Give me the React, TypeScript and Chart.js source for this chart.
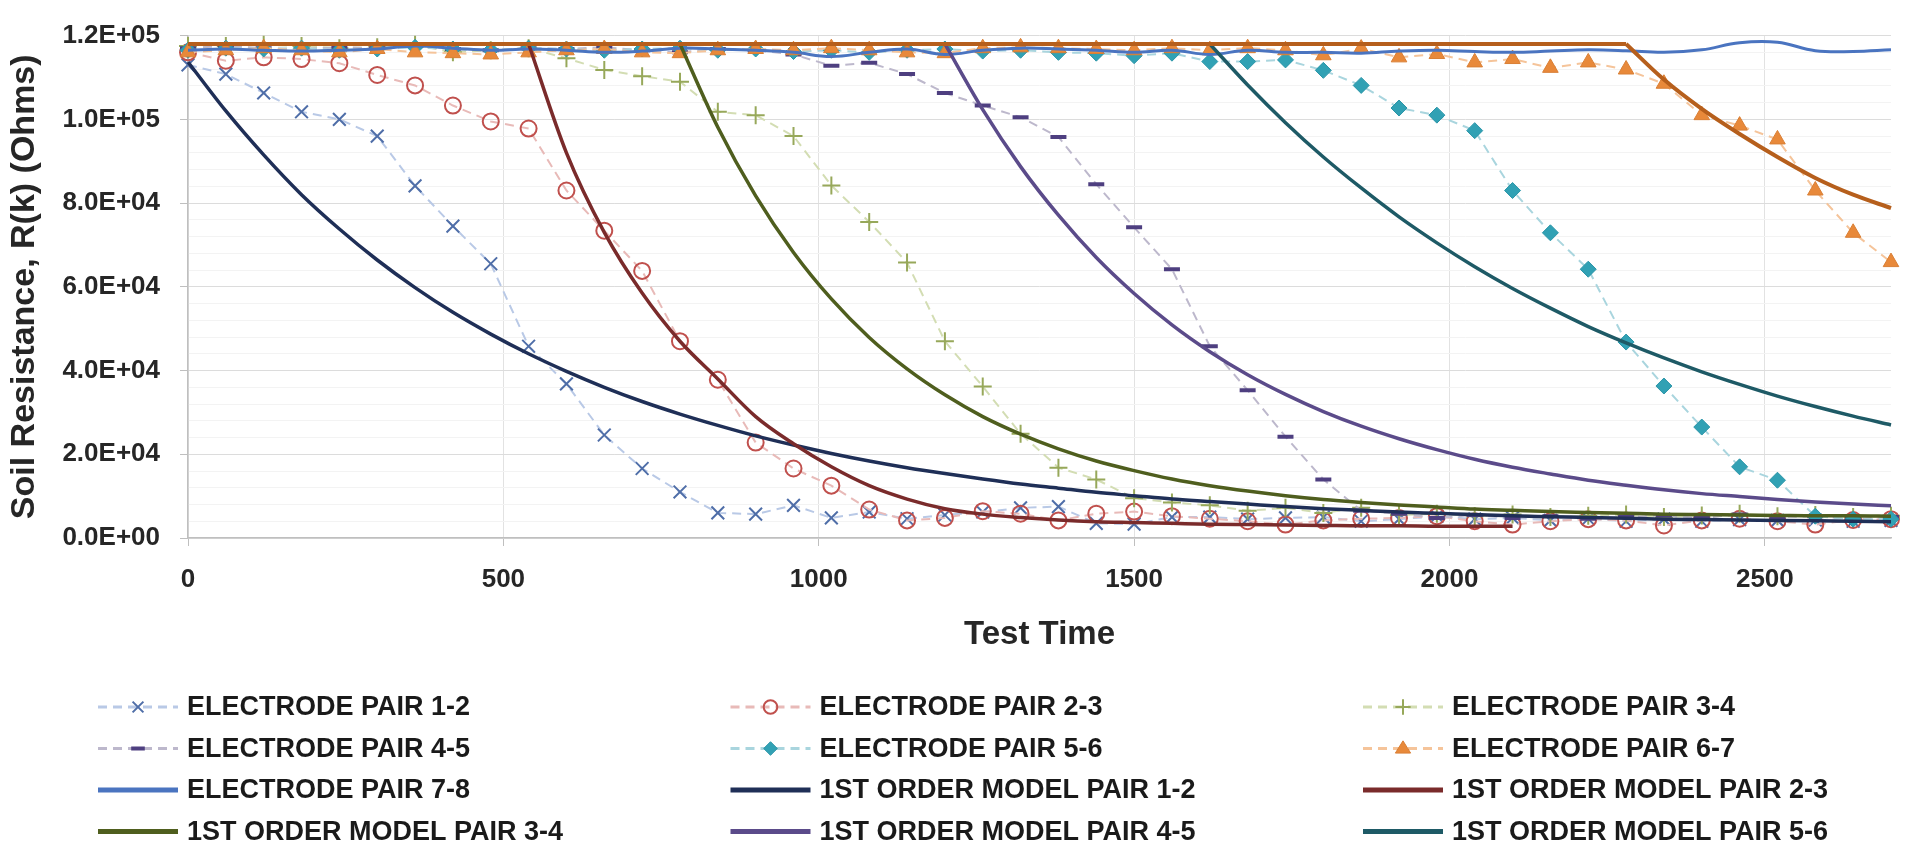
import React, { useEffect, useRef } from 'react';
import { Chart, registerables } from 'chart.js';

Chart.register(...registerables);

// ---------- data ----------
const TIME = [0, 60, 120, 180, 240, 300, 360, 420, 480, 540, 600, 660, 720, 780, 840, 900, 960, 1020, 1080, 1140, 1200, 1260, 1320, 1380, 1440, 1500, 1560, 1620, 1680, 1740, 1800, 1860, 1920, 1980, 2040, 2100, 2160, 2220, 2280, 2340, 2400, 2460, 2520, 2580, 2640, 2700];
const X_TICKS = [0, 500, 1000, 1500, 2000, 2500];

const PAIR_12 = [113000, 110800, 106300, 101800, 100000, 96000, 84100, 74500, 65500, 45800, 36800, 24600, 16600, 11000, 6000, 5700, 7800, 4800, 6200, 4600, 5500, 6200, 7200, 7500, 3500, 3300, 5000, 5000, 4500, 4800, 5000, 4000, 4500, 5200, 4500, 4800, 4200, 4600, 4000, 4500, 4000, 4400, 4200, 4300, 4000, 4200];
const PAIR_23 = [116000, 114000, 114800, 114400, 113400, 110600, 108100, 103300, 99500, 97800, 83000, 73400, 63800, 47000, 37800, 22800, 16600, 12500, 6800, 4200, 4800, 6400, 5800, 4200, 5800, 6300, 5200, 4600, 4000, 3200, 4200, 4600, 4800, 5200, 4000, 3200, 4000, 4500, 4200, 3000, 4200, 4600, 4000, 3200, 4300, 4500];
const PAIR_34 = [117500, 117500, 117800, 117500, 117000, 117200, 117800, 116000, 116500, 117000, 114600, 111800, 110300, 109000, 101800, 101000, 96000, 84200, 75500, 65800, 47000, 36200, 24900, 16800, 14000, 9500, 8500, 7800, 6500, 7200, 6000, 7200, 5500, 5800, 5200, 5600, 5000, 5300, 5600, 5000, 5400, 5800, 5200, 5500, 5000, 5300];
const PAIR_45 = [117000, 117500, 117000, 116800, 117200, 117000, 117500, 116800, 116500, 117000, 116800, 117200, 116500, 116000, 116800, 116500, 115500, 112800, 113500, 110800, 106300, 103300, 100500, 95800, 84500, 74200, 64200, 45800, 35300, 24200, 14000, 6500, 5800, 4800, 5500, 4800, 5200, 4600, 5000, 5400, 4800, 5600, 5000, 5200, 4600, 5000];
const PAIR_56 = [116500, 117000, 116800, 117000, 116500, 116800, 117200, 116800, 116500, 117000, 116800, 116500, 116800, 117000, 116500, 116800, 116200, 116500, 116000, 116500, 116800, 116300, 116500, 116000, 115800, 115200, 115800, 113800, 113800, 114200, 111700, 108100, 102700, 101000, 97300, 83000, 72900, 64200, 46800, 36300, 26500, 17000, 13800, 5200, 4500, 4500];
const PAIR_67 = [116000, 116500, 117000, 116500, 116000, 116800, 116000, 115800, 115500, 116000, 116500, 116800, 116000, 115800, 116500, 116800, 116500, 117000, 116500, 116000, 115800, 117000, 117200, 117000, 116800, 116500, 117000, 116500, 117000, 116500, 115300, 116900, 114800, 115600, 113600, 114400, 112300, 113600, 111900, 108500, 101000, 98500, 95200, 83000, 72900, 65900];
const PAIR_78 = [116500, 116800, 116500, 116300, 116500, 116800, 117500, 117000, 116500, 116800, 116500, 116000, 116300, 117000, 116800, 116500, 116000, 115000, 116000, 116800, 115500, 116500, 117000, 116800, 116500, 116000, 116500, 115500, 116500, 116000, 116000, 115800, 116300, 116500, 116200, 116000, 116300, 116600, 116400, 116000, 116600, 118300, 118400, 116400, 116200, 116600];

const MODEL_12 = [113700, 102000, 91500, 82000, 73800, 66400, 59800, 53900, 48700, 44000, 39800, 36000, 32600, 29600, 26900, 24400, 22200, 20200, 18400, 16800, 15400, 14100, 12900, 11900, 10900, 10100, 9300, 8700, 8100, 7500, 7000, 6600, 6200, 5900, 5600, 5300, 5100, 4900, 4700, 4500, 4400, 4300, 4200, 4100, 4000, 3900];
const MODEL_23 = [118000, 118000, 118000, 118000, 118000, 118000, 118000, 118000, 118000, 118000, 92000, 73000, 58500, 47000, 38000, 29000, 22500, 17000, 12500, 9300, 7000, 5700, 4900, 4300, 3900, 3700, 3500, 3300, 3200, 3100, 3000, 2900, 2900, 2800, 2800, 2800, null, null, null, null, null, null, null, null, null, null];
const MODEL_34 = [118000, 118000, 118000, 118000, 118000, 118000, 118000, 118000, 118000, 118000, 118000, 118000, 118000, 118000, 98100, 81700, 68200, 57100, 47900, 40400, 34200, 29000, 24800, 21300, 18400, 16100, 14100, 12500, 11200, 10100, 9200, 8500, 7900, 7400, 6900, 6600, 6300, 6100, 5900, 5700, 5600, 5500, 5400, 5300, 5300, 5200];
const MODEL_45 = [118000, 118000, 118000, 118000, 118000, 118000, 118000, 118000, 118000, 118000, 118000, 118000, 118000, 118000, 118000, 118000, 118000, 118000, 118000, 118000, 118000, 102300, 88700, 77100, 67000, 58400, 50900, 44500, 39000, 34300, 30200, 26700, 23700, 21100, 18800, 16900, 15300, 13800, 12600, 11500, 10600, 9900, 9200, 8600, 8100, 7700];
const MODEL_56 = [118000, 118000, 118000, 118000, 118000, 118000, 118000, 118000, 118000, 118000, 118000, 118000, 118000, 118000, 118000, 118000, 118000, 118000, 118000, 118000, 118000, 118000, 118000, 118000, 118000, 118000, 118000, 118000, 108200, 99200, 91000, 83600, 76700, 70500, 64800, 59600, 54900, 50500, 46600, 43000, 39700, 36700, 33900, 31400, 29100, 27000];
const MODEL_67 = [118000, 118000, 118000, 118000, 118000, 118000, 118000, 118000, 118000, 118000, 118000, 118000, 118000, 118000, 118000, 118000, 118000, 118000, 118000, 118000, 118000, 118000, 118000, 118000, 118000, 118000, 118000, 118000, 118000, 118000, 118000, 118000, 118000, 118000, 118000, 118000, 118000, 118000, 118000, 109500, 102500, 96500, 91000, 86000, 82000, 78800];

const LABELS = [
  'ELECTRODE PAIR 1-2', 'ELECTRODE PAIR 2-3', 'ELECTRODE PAIR 3-4',
  'ELECTRODE PAIR 4-5', 'ELECTRODE PAIR 5-6', 'ELECTRODE PAIR 6-7',
  'ELECTRODE PAIR 7-8', '1ST ORDER MODEL PAIR 1-2', '1ST ORDER MODEL PAIR 2-3',
  '1ST ORDER MODEL PAIR 3-4', '1ST ORDER MODEL PAIR 4-5', '1ST ORDER MODEL PAIR 5-6',
  '1ST ORDER MODEL PAIR 6-7',
];
const IN_LEGEND = 12; // the first 12 series appear in the legend

const X_TITLE = 'Test Time';
const Y_TITLE = 'Soil Resistance, R(k) (Ohms)';

// ---------- styles ----------
type Sty = {
  kind: 'pair' | 'solid' | 'model';
  line: string;
  width: number;
  marker?: string;
  mColor?: string;
  mFill?: string;
  mRadius?: number;
  mWidth?: number;
};

const STYLES: Sty[] = [
  { kind: 'pair', line: '#b9c9e6', width: 2, marker: 'crossRot', mColor: '#4f6ea8', mFill: 'rgba(0,0,0,0)', mRadius: 9, mWidth: 2 },
  { kind: 'pair', line: '#e8bab8', width: 2, marker: 'circle', mColor: '#c0504d', mFill: 'rgba(0,0,0,0)', mRadius: 8, mWidth: 2 },
  { kind: 'pair', line: '#d3ddb3', width: 2, marker: 'cross', mColor: '#97a85a', mFill: 'rgba(0,0,0,0)', mRadius: 9, mWidth: 2 },
  { kind: 'pair', line: '#bdb8cc', width: 2, marker: 'line', mColor: '#4e3f80', mFill: '#4e3f80', mRadius: 8, mWidth: 4 },
  { kind: 'pair', line: '#a9d5de', width: 2, marker: 'rectRot', mColor: '#2b95a8', mFill: '#31a1b4', mRadius: 8, mWidth: 1 },
  { kind: 'pair', line: '#f5c49a', width: 2, marker: 'triangle', mColor: '#d97f35', mFill: '#e8893a', mRadius: 9, mWidth: 1 },
  { kind: 'solid', line: '#4a74c0', width: 3 },
  { kind: 'model', line: '#1f2f57', width: 3.5 },
  { kind: 'model', line: '#7a2b2b', width: 3.5 },
  { kind: 'model', line: '#4f5e1e', width: 3.5 },
  { kind: 'model', line: '#5b4b8a', width: 3.5 },
  { kind: 'model', line: '#1e5a66', width: 3.5 },
  { kind: 'model', line: '#b65f1c', width: 4 },
];

const FONT = '"Liberation Sans", Arial, sans-serif';
const TEXT = '#262626';

function sci(v: number): string {
  if (v === 0) return '0.0E+00';
  const e = Math.floor(Math.log10(Math.abs(v)) + 1e-9);
  const m = v / Math.pow(10, e);
  return m.toFixed(1) + 'E+' + String(e).padStart(2, '0');
}

function drawMarker(ctx: CanvasRenderingContext2D, style: string, x: number, y: number, r: number, stroke: string, fill: string, lw: number) {
  ctx.save();
  ctx.setLineDash([]);
  ctx.lineWidth = lw;
  ctx.strokeStyle = stroke;
  ctx.fillStyle = fill;
  ctx.beginPath();
  if (style === 'circle') {
    ctx.arc(x, y, r, 0, Math.PI * 2);
    ctx.closePath();
    ctx.fill();
    ctx.stroke();
  } else if (style === 'crossRot') {
    const d = r * Math.SQRT1_2;
    ctx.moveTo(x - d, y - d); ctx.lineTo(x + d, y + d);
    ctx.moveTo(x - d, y + d); ctx.lineTo(x + d, y - d);
    ctx.stroke();
  } else if (style === 'cross') {
    ctx.moveTo(x, y - r); ctx.lineTo(x, y + r);
    ctx.moveTo(x - r, y); ctx.lineTo(x + r, y);
    ctx.stroke();
  } else if (style === 'line') {
    ctx.moveTo(x - r, y); ctx.lineTo(x + r, y);
    ctx.stroke();
  } else if (style === 'rectRot') {
    ctx.moveTo(x, y - r); ctx.lineTo(x + r, y); ctx.lineTo(x, y + r); ctx.lineTo(x - r, y);
    ctx.closePath();
    ctx.fill();
    ctx.stroke();
  } else if (style === 'triangle') {
    ctx.moveTo(x, y - r); ctx.lineTo(x + r, y + r * 0.6); ctx.lineTo(x - r, y + r * 0.6);
    ctx.closePath();
    ctx.fill();
    ctx.stroke();
  }
  ctx.restore();
}

const gridLegend = {
  id: 'gridLegend',
  afterDraw(chart: any) {
    const ctx: CanvasRenderingContext2D = chart.ctx;
    const left = chart.chartArea.left;
    const pitch = 632.5;
    const rowY = [707, 748.5, 790, 831.5];
    ctx.save();
    for (let i = 0; i < IN_LEGEND; i++) {
      const s = STYLES[i];
      const col = i % 3;
      const row = Math.floor(i / 3);
      const y = rowY[row];
      const x0 = left - 90 + col * pitch;
      const x1 = x0 + 80;
      ctx.save();
      ctx.beginPath();
      ctx.strokeStyle = s.line;
      if (s.kind === 'pair') {
        ctx.lineWidth = 3;
        ctx.setLineDash([9, 6]);
      } else {
        ctx.lineWidth = 5;
        ctx.setLineDash([]);
      }
      ctx.moveTo(x0, y);
      ctx.lineTo(x1, y);
      ctx.stroke();
      ctx.restore();
      if (s.marker) {
        drawMarker(ctx, s.marker, (x0 + x1) / 2, y, (s.mRadius || 8) * 0.85, s.mColor || '#000', s.mFill || 'transparent', s.mWidth || 2);
      }
      ctx.font = 'bold 27px ' + FONT;
      ctx.fillStyle = '#1a1a1a';
      ctx.textAlign = 'left';
      ctx.textBaseline = 'middle';
      ctx.fillText(LABELS[i], left - 1 + col * pitch, y + 1);
    }
    ctx.restore();
  },
};

export default function App() {
  const ref = useRef<HTMLCanvasElement>(null);

  useEffect(() => {
    document.body.style.margin = '0';
    const canvas = ref.current;
    if (!canvas) return;

    const SERIES = [PAIR_12, PAIR_23, PAIR_34, PAIR_45, PAIR_56, PAIR_67, PAIR_78, MODEL_12, MODEL_23, MODEL_34, MODEL_45, MODEL_56, MODEL_67];
    const datasets: any[] = [];
    SERIES.forEach((vals, i) => {
      const s = STYLES[i];
      const pts = TIME.map((t, k) => ({ x: t, y: vals[k] }));
      const base: any = {
        label: LABELS[i],
        borderColor: s.line,
        backgroundColor: s.line,
        borderWidth: s.width,
        order: SERIES.length - i,
        clip: 14,
        spanGaps: false,
        fill: false,
      };
      if (s.kind === 'pair') {
        datasets.push({
          ...base,
          data: pts,
          borderDash: [9, 6],
          tension: 0,
          pointStyle: s.marker,
          pointRadius: s.mRadius,
          pointBorderColor: s.mColor,
          pointBackgroundColor: s.mFill,
          pointBorderWidth: s.mWidth,
        });
      } else if (s.kind === 'solid') {
        datasets.push({ ...base, data: pts, pointRadius: 0, tension: 0.4 });
      } else {
        // model: flat plateau part (straight) + decay part (smooth)
        let onset = 0;
        for (let k = 0; k < vals.length - 1; k++) {
          if (vals[k + 1] !== null && vals[k] !== null && (vals[k + 1] as number) < (vals[k] as number)) { onset = k; break; }
        }
        if (onset > 0) {
          datasets.push({ ...base, data: pts.slice(0, onset + 1), pointRadius: 0, tension: 0 });
        }
        datasets.push({ ...base, data: pts.slice(onset), pointRadius: 0, cubicInterpolationMode: 'monotone' });
      }
    });

    const chart = new Chart(canvas, {
      type: 'line',
      data: { datasets },
      plugins: [gridLegend],
      options: {
        animation: false,
        responsive: false,
        devicePixelRatio: 1,
        events: [],
        layout: { padding: { left: 0, right: 21, top: 26, bottom: 0 } },
        plugins: { legend: { display: false }, tooltip: { enabled: false } },
        font: { family: FONT },
        scales: {
          x: {
            type: 'linear',
            min: 0,
            max: 2700,
            afterFit: (s: any) => { s.height = 313; },
            afterBuildTicks: (s: any) => { s.ticks = X_TICKS.map((v) => ({ value: v })); },
            ticks: {
              autoSkip: false,
              maxRotation: 0,
              padding: 18,
              color: TEXT,
              font: { family: FONT, size: 26, weight: 'bold' },
              callback: (v: any) => String(v),
            },
            grid: { color: '#e2e2e2', tickLength: 8, tickColor: '#bfbfbf' },
            border: { color: '#bfbfbf', width: 1.5 },
            title: {
              display: true,
              text: X_TITLE,
              color: TEXT,
              font: { family: FONT, size: 33, weight: 'bold' },
              padding: { top: 0, bottom: 196 },
            },
          },
          y: {
            type: 'linear',
            min: 0,
            max: 120000,
            afterFit: (s: any) => { s.width = 188; },
            ticks: {
              stepSize: 4000,
              autoSkip: false,
              padding: 20,
              color: TEXT,
              font: { family: FONT, size: 26, weight: 'bold' },
              callback: (v: any) => (Number(v) % 20000 === 0 ? sci(Number(v)) : ''),
            },
            grid: {
              color: (c: any) => (c.tick && c.tick.value % 20000 === 0 ? '#dcdcdc' : '#f3f3f3'),
              tickColor: (c: any) => (c.tick && c.tick.value % 20000 === 0 ? '#bfbfbf' : 'rgba(0,0,0,0)'),
              tickLength: 8,
            },
            border: { color: '#bfbfbf', width: 1.5 },
            title: {
              display: true,
              text: Y_TITLE,
              color: TEXT,
              font: { family: FONT, size: 34, weight: 'bold' },
              padding: { top: 4, bottom: 0 },
            },
          },
        },
      } as any,
    });

    return () => chart.destroy();
  }, []);

  return (
    <div style={{ width: 1912, height: 851, background: '#ffffff' }}>
      <canvas ref={ref} width={1912} height={851} style={{ display: 'block' }} />
    </div>
  );
}
